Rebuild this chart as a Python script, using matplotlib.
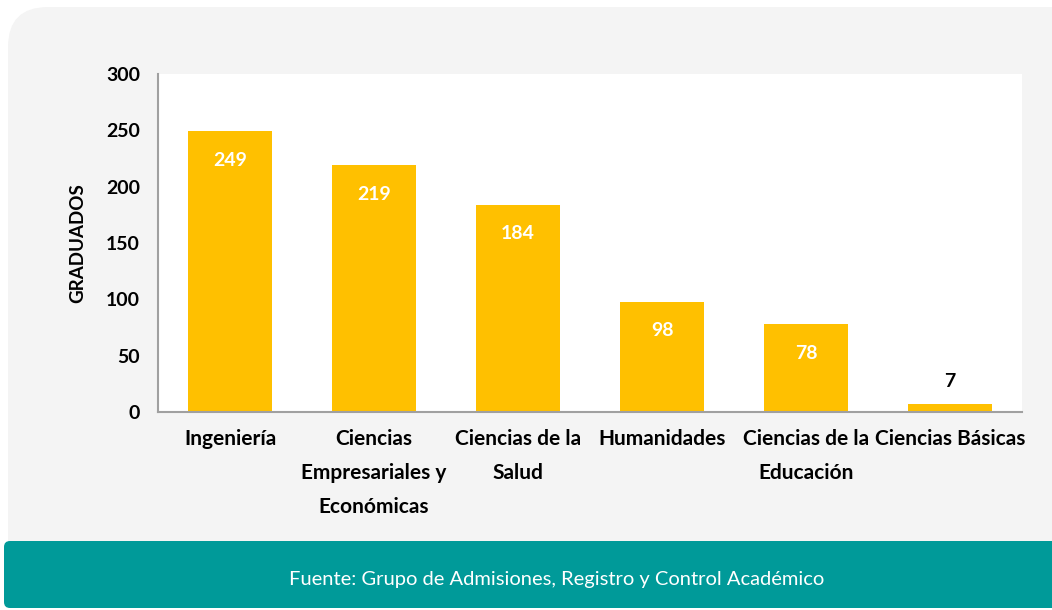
import matplotlib.pyplot as plt
from matplotlib.patches import FancyBboxPatch

# data
categories = ['Ingeniería', 'Ciencias\nEmpresariales y\nEconómicas', 'Ciencias de la\nSalud',
              'Humanidades', 'Ciencias de la\nEducación', 'Ciencias Básicas']
graduados = [249, 219, 184, 98, 78, 7]
yticks = [0, 50, 100, 150, 200, 250, 300]

BAR = '#FFC000'
TEAL = '#009A99'
PANEL = '#F4F4F4'

plt.rcParams['font.family'] = ['Lato', 'DejaVu Sans']

fig = plt.figure(figsize=(10.52, 6.10), dpi=100)
fig.patch.set_facecolor('white')

# background panel + footer band, drawn in pixel coords
bg = fig.add_axes([0, 0, 1, 1], zorder=0)
bg.set_xlim(0, 1052)
bg.set_ylim(610, 0)
bg.axis('off')
bg.add_patch(FancyBboxPatch((8, 7), 1100, 595, boxstyle='round,pad=0,rounding_size=40',
                            facecolor=PANEL, edgecolor='none'))
bg.add_patch(FancyBboxPatch((4, 541), 1100, 67, boxstyle='round,pad=0,rounding_size=6',
                            facecolor=TEAL, edgecolor='none'))
bg.text(557, 580, 'Fuente: Grupo de Admisiones, Registro y Control Académico',
        color='white', fontsize=14.5, ha='center', va='center')

ax = fig.add_axes([158 / 1052, 198 / 610, 864 / 1052, 338 / 610], zorder=1)
ax.set_facecolor('white')
x = range(len(categories))
bars = ax.bar(x, graduados, width=0.583, color=BAR, zorder=2)

for b, v in zip(bars, graduados):
    cx = b.get_x() + b.get_width() / 2
    if v > 30:
        ax.annotate(str(v), (cx, v), xytext=(0, -21), textcoords='offset points',
                    ha='center', va='center', color='white', fontsize=14, fontweight='bold')
    else:
        ax.annotate(str(v), (cx, v), xytext=(0, 16), textcoords='offset points',
                    ha='center', va='center', color='black', fontsize=14, fontweight='bold')

ax.set_xlim(-0.5, len(categories) - 0.5)
ax.set_ylim(0, 300)
ax.set_yticks(yticks)
ax.set_xticks(list(x))
ax.set_xticklabels(categories, linespacing=1.88, va='top')
ax.tick_params(axis='y', length=0, labelsize=14, pad=13)
ax.tick_params(axis='x', length=0, labelsize=15, pad=12)
for lab in ax.get_xticklabels() + ax.get_yticklabels():
    lab.set_fontweight('bold')

for s in ['top', 'right']:
    ax.spines[s].set_visible(False)
for s in ['left', 'bottom']:
    ax.spines[s].set_color('#A0A0A0')
    ax.spines[s].set_linewidth(1.5)

ax.set_ylabel('GRADUADOS', fontsize=13.5, fontweight='bold', labelpad=14)

fig.savefig('out.png', dpi=100)
